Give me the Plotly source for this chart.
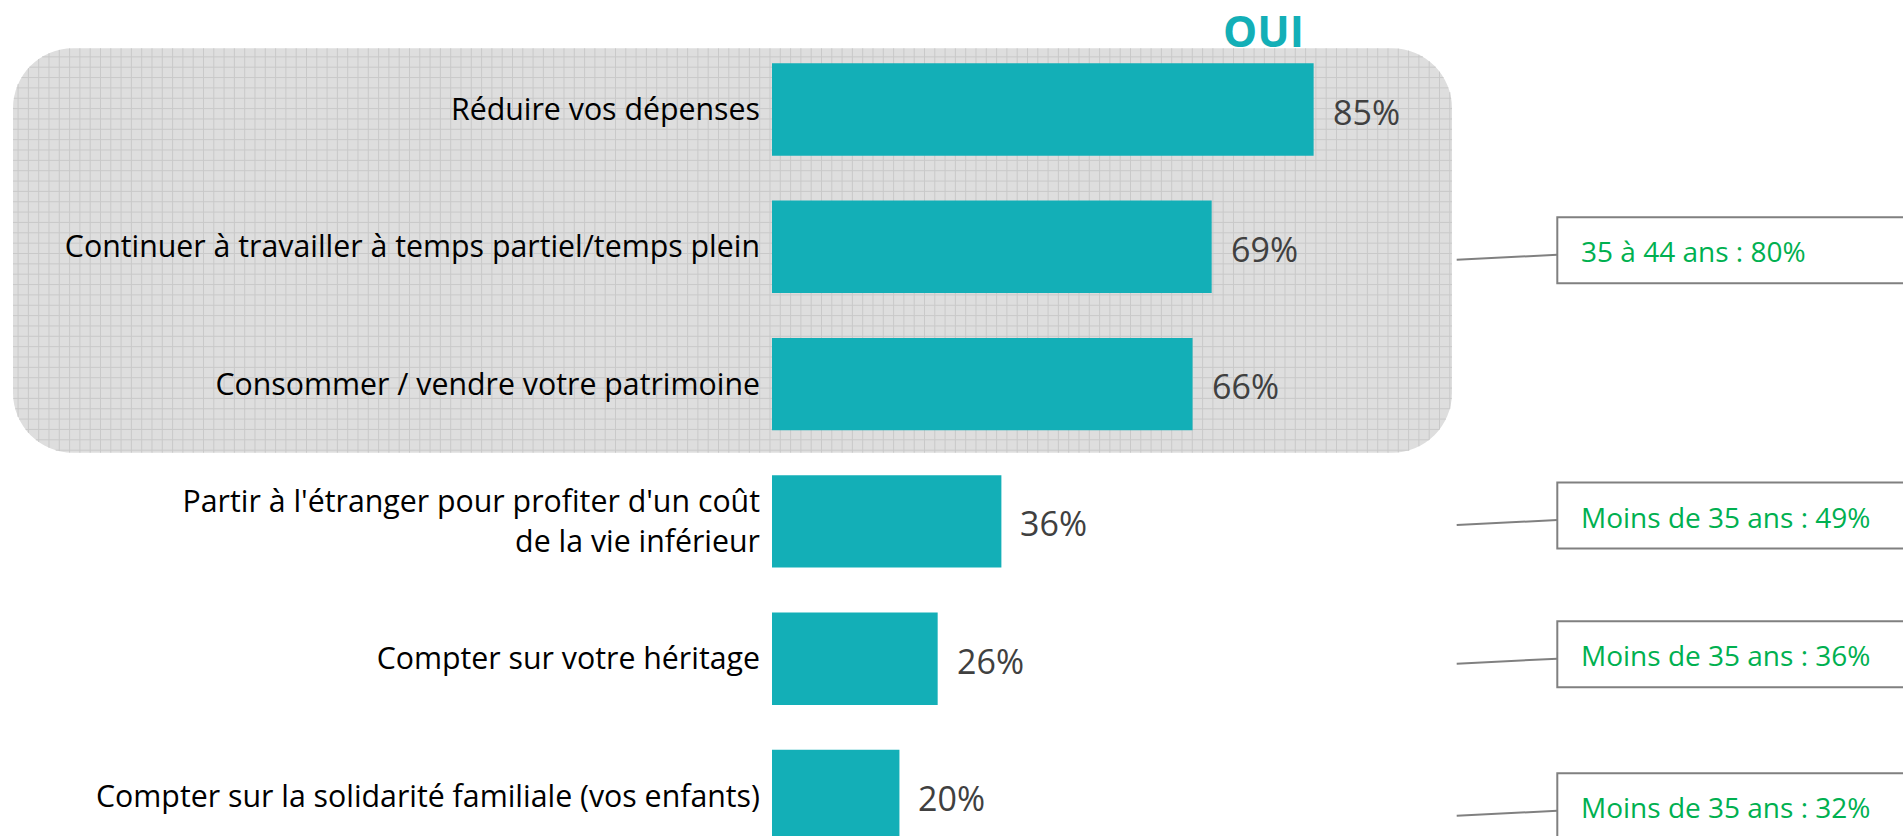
import math
import plotly.graph_objects as go

# ---------------- data ----------------
categories = [
    "Réduire vos dépenses",
    "Continuer à travailler à temps partiel/temps plein",
    "Consommer / vendre votre patrimoine",
    "Partir à l'étranger pour profiter d'un coût<br>de la vie inférieur",
    "Compter sur votre héritage",
    "Compter sur la solidarité familiale (vos enfants)",
]
oui_pct = [85, 69, 66, 36, 26, 20]
callout_text = [
    None,
    "35 à 44 ans : 80%",
    None,
    "Moins de 35 ans : 49%",
    "Moins de 35 ans : 36%",
    "Moins de 35 ans : 32%",
]
series_title = "OUI"

# ---------------- layout constants ----------------
W, H = 1903, 836
TEAL = "#13AFB7"
FONT = "Open Sans, Noto Sans, sans-serif"
BAR_X0 = 772          # pixel where 0 % sits
PX_PER_PCT = 6.372
ROW0, PITCH = 109.5, 137.3


def px(x):
    return x / W


def py(y):
    return 1 - y / H


fig = go.Figure()
fig.add_trace(go.Bar(
    x=oui_pct, y=categories, orientation="h",
    marker=dict(color=TEAL, line=dict(width=0)),
    width=0.673, hoverinfo="x+y", showlegend=False,
))

# value labels right of each bar
annotations = []
for cat, v in zip(categories, oui_pct):
    annotations.append(dict(
        x=v, y=cat, xref="x", yref="y", text=f"{v}%", showarrow=False,
        xanchor="left", yanchor="middle", xshift=17, yshift=-2,
        font=dict(family=FONT, size=34, color="#404040"),
    ))

# series title
annotations.append(dict(
    x=px(1263), y=py(31), xref="paper", yref="paper", text=f"<b>{series_title}</b>",
    showarrow=False, xanchor="center", yanchor="middle",
    font=dict(family=FONT, size=43, color=TEAL),
))

shapes = []

# rounded, gridded background behind the first three rows
RX0, RX1, RY0, RY1, R = 13, 1452, 48.3, 452.7, 60
k = 0.5523 * R


def P(x, y):
    return f"{px(x):.6f},{py(y):.6f}"


rr = (
    f"M {P(RX0 + R, RY0)} L {P(RX1 - R, RY0)} "
    f"C {P(RX1 - R + k, RY0)} {P(RX1, RY0 + R - k)} {P(RX1, RY0 + R)} "
    f"L {P(RX1, RY1 - R)} "
    f"C {P(RX1, RY1 - R + k)} {P(RX1 - R + k, RY1)} {P(RX1 - R, RY1)} "
    f"L {P(RX0 + R, RY1)} "
    f"C {P(RX0 + R - k, RY1)} {P(RX0, RY1 - R + k)} {P(RX0, RY1 - R)} "
    f"L {P(RX0, RY0 + R)} "
    f"C {P(RX0, RY0 + R - k)} {P(RX0 + R - k, RY0)} {P(RX0 + R, RY0)} Z"
)
shapes.append(dict(type="path", path=rr, xref="paper", yref="paper",
                   fillcolor="#dedede", line=dict(width=0), layer="below"))


def inset(d):
    # pull-in of the rounded edge at distance d into a corner zone
    if d <= 0:
        return 0.0
    d = min(d, R)
    return R - math.sqrt(max(R * R - d * d, 0.0))


grid = []
step = 10.3
x = 770.0
while x - step > RX0:
    x -= step
while x < RX1 - 0.5:
    d = max(RX0 + R - x, x - (RX1 - R))
    e = inset(d)
    grid.append(f"M {P(x, RY0 + e)} L {P(x, RY1 - e)}")
    x += step
stepy = 10.35
y = 150.0
while y - stepy > RY0:
    y -= stepy
while y < RY1 - 0.5:
    d = max(RY0 + R - y, y - (RY1 - R))
    e = inset(d)
    grid.append(f"M {P(RX0 + e, y)} L {P(RX1 - e, y)}")
    y += stepy
shapes.append(dict(type="path", path=" ".join(grid), xref="paper", yref="paper",
                   line=dict(color="#c9c9c9", width=1), layer="below"))

# call-out boxes with connectors
box_center_px = {1: 250.3, 3: 515.5, 4: 654.2, 5: 806.3}
BOX_L, BOX_H = 1557.3, 66
for i, txt in enumerate(callout_text):
    if not txt:
        continue
    c = box_center_px[i]
    shapes.append(dict(type="rect", xref="paper", yref="paper",
                       x0=px(BOX_L), x1=px(W + 20), y0=py(c + BOX_H / 2), y1=py(c - BOX_H / 2),
                       line=dict(color="#808080", width=2), fillcolor="rgba(0,0,0,0)"))
    shapes.append(dict(type="line", xref="paper", yref="paper",
                       x0=px(1456.7), y0=py(c + 9.5), x1=px(BOX_L), y1=py(c + 4.5),
                       line=dict(color="#808080", width=2)))
    annotations.append(dict(
        x=px(1579.3), y=py(c + 1), xref="paper", yref="paper", text=txt,
        showarrow=False, xanchor="left", yanchor="middle",
        font=dict(family=FONT, size=28, color="#00B050"),
    ))

x_max = (W - BAR_X0) / PX_PER_PCT
y_top = -ROW0 / PITCH
y_bot = (H - ROW0) / PITCH

fig.update_layout(
    width=W, height=H,
    margin=dict(l=0, r=0, t=0, b=0, pad=0),
    paper_bgcolor="white", plot_bgcolor="rgba(0,0,0,0)",
    xaxis=dict(domain=[BAR_X0 / W, 1], range=[0, x_max], visible=False, fixedrange=True),
    yaxis=dict(
        type="category", categoryorder="array", categoryarray=categories,
        range=[y_bot, y_top], showgrid=False, zeroline=False, showline=False,
        ticks="", ticklabelstandoff=11,
        tickfont=dict(family=FONT, size=30.3, color="#000000"),
        fixedrange=True,
    ),
    shapes=shapes, annotations=annotations,
    showlegend=False,
)

fig.write_html("out.html", config={"displayModeBar": False},
               post_script="document.body.style.margin='0';")
